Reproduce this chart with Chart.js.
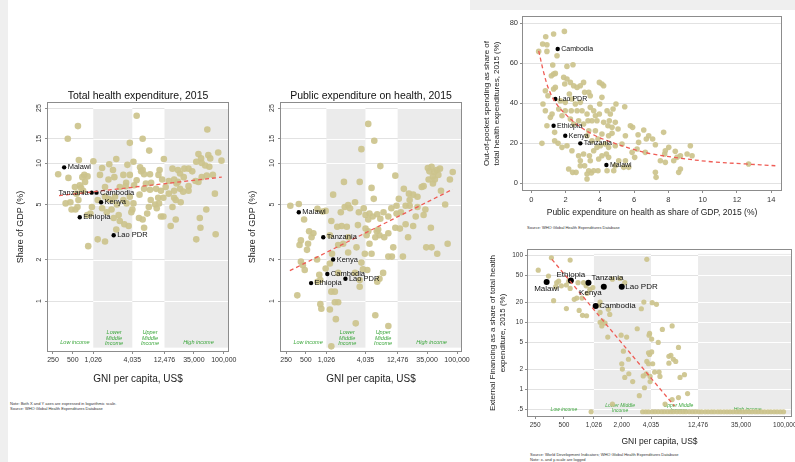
<!DOCTYPE html>
<html>
<head>
<meta charset="utf-8">
<title>Health expenditure and GNI per capita, 2015</title>
<script src="https://cdn.jsdelivr.net/npm/chart.js@4.4.1/dist/chart.umd.min.js"></script>
<style>
  html, body { margin: 0; padding: 0; }
  body { width: 795px; height: 462px; position: relative; overflow: hidden; background: #fff;
         font-family: "Liberation Sans", Arial, sans-serif; }
  .strip { position: absolute; background: #efefef; }
  canvas { position: absolute; }
  .note { position: absolute; font-size: 4px; line-height: 4.5px; color: #333; white-space: nowrap; }
</style>
</head>
<body>
<div class="strip" style="left:0;top:0;width:8px;height:462px"></div>
<div class="strip" style="left:470px;top:0;width:325px;height:10px"></div>

<canvas id="total" width="233" height="310" style="left:8px;top:86px"></canvas>
<canvas id="public" width="235" height="310" style="left:241px;top:86px"></canvas>
<canvas id="oop" width="319" height="210" style="left:476px;top:10px"></canvas>
<canvas id="external" width="311" height="204" style="left:484px;top:246px"></canvas>

<div class="note" style="left:10px;top:402px">Note: Both X and Y axes are expressed in logarithmic scale.<br>Source: WHO Global Health Expenditures Database</div>
<div class="note" style="left:527px;top:226px">Source: WHO Global Health Expenditures Database</div>
<div class="note" style="left:530px;top:453px">Source: World Development Indicators; WHO Global Health Expenditures Database<br>Note: x- and y-scale are logged</div>

<script>
const FONT = '"Liberation Sans", Arial, sans-serif';

// ---- tick values ----
const gniTicks = [250, 500, 1026, 4035, 12476, 35000, 100000];
const gniTicksExt = [250, 500, 1026, 2000, 4035, 12476, 35000, 100000];
const shareTicks = [1, 2, 5, 10, 15, 25];
const oopTicks = [0, 20, 40, 60, 80];
const pubShareTicks = [0, 2, 4, 6, 8, 10, 12, 14];
const extTicks = [0.5, 1, 2, 5, 10, 20, 50, 100];
const extTickLabels = ['.5', '1', '2', '5', '10', '20', '50', '100'];

// income thresholds (GNI per capita, US$)
const incomeBands = [[1026, 4035], [12476, Infinity]];
const incomeGroups = [['Low income'], ['Lower', 'Middle', 'Income'], ['Upper', 'Middle', 'Income'], ['High income']];
const incomeGroupsExt = [['Low income'], ['Lower Middle', 'Income'], ['Upper Middle', 'Income'], ['High income']];

// highlighted countries, same order in every panel
const countries = ['Malawi', 'Tanzania', 'Cambodia', 'Kenya', 'Ethiopia', 'Lao PDR'];

// ---- panel 1: total health expenditure, [GNI, % of GDP] ----
const totalCountries = [[370, 9.3], [970, 6.1], [1150, 6.1], [1350, 5.2], [640, 4.05], [2100, 3.0]];
const totalFit = [[309, 5.8], [93000, 7.9]];
const totalPts = [
  [4700,22],[600,18.5],[56000,17.5],[420,15],[5800,15],[3700,14],[7300,12.3],[620,10.5],[1030,10.3],[12200,10.7],
  [41000,11.6],[58000,11.4],[82000,11.9],[92000,10.4],[45000,10.8],[46000,10],[62000,10.8],[60000,9.4],[4200,10.2],[2300,10.7],
  [1800,9.8],[3400,9.7],[5300,9.3],[5800,8.9],[5500,8.7],[6100,8.3],[1400,9.2],[2050,8.9],[2150,7.9],[1300,8.2],
  [1750,7.6],[3250,7.2],[3200,6.8],[4300,6.9],[4700,7.5],[7500,8.3],[7800,7.2],[10500,8.9],[10100,8.2],[11500,7.6],
  [16500,9.1],[17500,7.6],[20000,8.9],[21500,8.4],[25000,9.1],[29000,9.1],[33000,8.7],[24500,7.9],[20000,7.3],[14500,7.4],
  [13000,6.7],[19000,7.1],[21500,6.5],[17500,6.3],[29000,6.8],[37000,7.4],[46000,7.9],[55000,8.1],[68000,8.2],[73000,6],
  [14500,6],[17500,5.6],[12000,5.6],[10000,5.6],[10300,5.1],[9000,5],[9500,4.7],[11000,4.1],[12000,4.1],[22000,5.2],
  [18500,5.4],[16500,4.8],[15500,3.5],[18500,3.9],[43000,4],[54000,4.6],[44000,3.4],[38000,2.8],[75000,3.05],
  [300,8.3],[430,7.8],[700,7.9],[750,8.2],[840,8],[640,6.9],[540,6.7],[770,7.3],[670,6.6],[720,6.3],
  [570,6],[610,5.4],[390,5.1],[480,4.6],[550,4.6],[460,5.2],[590,4.8],[980,4.8],[830,4.2],[930,4.3],
  [860,2.5],[1200,2.8],[1550,2.7],[1200,5.4],[1400,4.7],[1650,4.4],[1950,4.6],[2500,4.2],[2100,4],[2300,3.3],
  [3050,3.6],[3550,3.5],[3900,4.4],[2600,3.8],[1550,5.7],[1750,5.5],[1950,5.4],[2200,5.7],[2350,5],[2950,5.4],
  [3300,5.1],[3700,5.7],[4050,4.6],[4200,5.1],[5100,4],[5800,3.9],[6100,3.4],[6800,4.3],[7200,4.8],[5200,5.9],
  [6100,6.5],[6500,7.1],[7500,6.4],[7700,5.4],[9300,6.5],[11000,6.3],[29000,6.3],[24000,6.2],[41000,7.3],[52000,9.6],
  [38000,10.2],[2950,8.2],[2600,6.7],[1550,6.7],[3700,8.2]
];

// ---- panel 2: public expenditure on health, [GNI, % of GDP] ----
const publicCountries = [[390, 4.4], [920, 2.9], [1060, 1.57], [1300, 2.0], [600, 1.35], [2000, 1.45]];
const publicFit = [[285, 1.66], [86000, 6.45]];
const publicPts = [
  [4450,19.2],[5500,14.5],[3500,12.6],[6800,9.5],[1900,7.3],[3300,7.3],[11500,8.1],[5000,6.6],[1300,5.9],[2800,5.2],
  [5400,5.5],[1950,4.8],[2200,4.95],[2350,4.7],[1700,4.4],[3200,4.4],[3800,4.7],[4050,4.2],[4450,3.9],[4650,4.3],
  [5200,4.1],[6100,4.25],[6800,3.95],[7600,4.4],[9000,4.1],[10000,4.7],[12000,4.9],[13000,5.5],[15500,6.5],[18500,6],
  [21500,5.9],[19000,5.4],[25000,5.7],[29000,6.7],[31000,6.8],[36000,9.2],[38000,8.7],[41000,9.4],[43000,8],[46000,7.6],
  [49000,8.9],[55000,9.1],[57000,6.3],[52000,8.2],[43000,7.1],[78000,7.6],[86000,8.6],[37000,7.6],[45000,8.6],
  [12000,4.3],[14000,4.4],[16500,4.9],[19000,4.9],[23500,4.1],[25000,4.8],[31000,4.2],[11500,3.4],[13500,3.35],[16500,3.6],
  [21500,3.5],[18000,2.9],[40000,3.4],[66000,5],[33000,4.6],[10700,2.45],[9000,2.1],[10200,2.1],[15000,2.1],[34000,2.45],
  [41000,2.45],[50000,2.2],[72000,2.6],[9000,3.1],[7800,2.9],[6600,3],[5700,2.9],[6000,3.2],[6300,3.3],[4200,3],
  [4650,2.6],[3950,2.2],[3500,1.9],[3700,1.7],[4300,1.68],[5000,2.2],[2950,2.45],[2200,2.25],[1850,2.6],[1550,2.55],
  [2100,3.45],[2200,2.9],[3100,3.55],[4050,3.35],[4450,3.2],[7500,1.6],[6600,1.45],[6100,1.38],[3300,1.27],[3300,1.42],
  [1160,1.87],[1250,2.2],[1000,1.72],[800,1.55],[750,1.38],[830,1.42],[480,1.68],[450,1.82],[420,1.93],[740,2],
  [520,2.35],[420,2.75],[400,2.55],[540,2.6],[610,2.9],[650,3.1],[560,3.2],[290,4.9],[390,5.05],[470,3.9],
  [750,4.65],[1000,4.5],[900,4.45],[1220,3.8],[1500,3.45],[1750,3.5],[1160,3],[1220,1.17],[1380,1.17],[1550,0.98],
  [1380,0.98],[830,0.95],[860,0.88],[1160,0.87],[370,1.1],[1430,0.74],[2870,0.69],[5700,0.79],[9000,0.66],[1220,0.47],
  [2800,1.6],[1550,1.6]
];

// ---- panel 3: out-of-pocket share vs public expenditure share ----
const oopCountries = [[4.38, 9.2], [2.86, 20], [1.54, 67.2], [1.98, 23.8], [1.30, 28.8], [1.40, 42.2]];
const oopFit = [[0.43,66.3],[0.72,55.5],[1.01,47.2],[1.4,40.5],[1.98,34.7],[2.76,28.8],[3.74,23.8],[4.71,20.5],
  [5.88,17.2],[7.04,14.7],[8.6,12.7],[10.5,10.8],[12.5,9.7],[14.24,8.8]];
const oopPts = [
  [0.43,66],[0.66,69.7],[0.84,73.3],[0.91,69.3],[0.91,66],[1.3,74.7],[1.93,76],[1.5,63.8],[1.25,59.2],[1.3,54.7],
  [1.17,53.8],[1.4,55],[2.08,58.5],[2.43,59.3],[1.89,53],[2.08,52.2],[1.4,48],[1.3,47.2],[1.95,49.7],[2.28,50.5],
  [2.47,48.8],[2.67,48],[2.86,48.8],[3.05,50.5],[3.11,45.5],[3.35,45.5],[3.44,43.8],[3.97,50.5],[4.12,49.7],[4.22,48.8],
  [4.12,43],[0.82,46.3],[0.97,43.8],[0.68,39.7],[0.82,36.3],[1.69,41.3],[1.98,40.5],[2.22,44.7],[2.37,42.2],[2.57,39.7],
  [2.86,40.5],[2.67,36.3],[2.33,36.3],[1.98,36.3],[1.6,37.2],[1.79,33.8],[2.96,36.3],[3.25,34.7],[3.44,38],[3.64,36.3],
  [3.74,33.8],[3.83,31.3],[3.99,39.7],[3.97,34.7],[3.54,31.3],[3.31,31.3],[3.05,29.7],[2.76,31.3],[2.47,29.7],[2.28,32.2],
  [4.22,30.5],[4.42,36.3],[4.61,34.7],[4.77,37.2],[4.94,39.7],[5.45,38.3],[4.55,31.3],[4.47,28.8],[4.71,28],[4.9,30.5],
  [5.06,27.2],[4.71,25],[4.51,23.8],[4.12,24.7],[3.89,22.2],[3.74,26.3],[3.35,26.3],[3.25,23.8],[3.54,21.3],[3.83,18],
  [3.64,16.3],[4.03,18.8],[4.32,19.7],[4.51,18],[4.9,18.8],[5.29,19.7],[5.49,23.8],[5.78,28.8],[5.91,28],[6.23,24.3],
  [6.56,26.7],[6.26,20.5],[6.85,23.8],[7.08,22.2],[7.24,19.3],[6.71,22.2],[6.17,17.2],[5.88,15.5],[6.03,13],[6.65,15.5],
  [7.72,25.5],[7.82,16.3],[8.02,18],[8.4,16],[7.78,14.7],[7.53,11.3],[7.82,10.5],[8.31,11.3],[8.5,13],[8.7,13.8],
  [9.09,14.7],[9.28,18.8],[9.38,13.8],[8.7,7.2],[8.6,5.5],[7.24,5.5],[7.28,3],[5.49,11.3],[5.1,11.3],[5.68,8],
  [5.39,8],[4.81,6.3],[4.9,8.8],[4.42,6.3],[4.38,14.7],[4.51,13],[4.12,13.8],[3.93,12.2],[3.44,11.3],[3.39,13.8],
  [3.05,14.7],[2.76,13.8],[2.86,11.3],[2.86,8.8],[3.11,8.8],[3.35,6.3],[3.5,5.2],[3.25,2.2],[3.25,4.7],[3.64,6.3],
  [3.89,6.3],[2.18,7.2],[2.41,5.5],[2.61,5.5],[2.37,16.3],[2.08,18.8],[1.79,18],[1.56,20],[1.36,21.3],[1.36,25.5],
  [0.62,20],[0.91,28.8],[1.11,33],[1.21,34.7],[12.68,9.7]
];

// ---- panel 4: external financing share, [GNI, %] ----
const extCountries = [[330, 40], [900, 39], [1070, 17.5], [1300, 34], [590, 42], [2000, 34]];
const extFit = [[374, 87], [7080, 0.56]];
const extPts = [
  [270,60],[370,92],[580,85],[345,49],[420,39],[440,41],[410,34],[390,21],[470,35],[530,36],
  [560,41],[580,32],[640,22],[680,23],[530,16],[720,15],[780,12.7],[860,12.5],[800,39],[850,35],
  [930,31],[1000,33],[770,23],[870,27],[700,39],[1190,20],[1160,18],[1190,14],[1190,10],[1240,8.8],
  [1260,10.4],[1340,9.7],[1450,15.6],[1500,13.1],[1600,44],[1920,45],[2150,39],[1430,6],[1970,6.4],[2250,6],
  [2080,3.7],[2000,2.4],[2030,2],[2350,2.8],[2150,1.5],[2370,1.7],[2600,1.3],[2900,8],[3200,15.9],[3650,87],
  [3400,20],[4150,19.6],[4600,18.5],[3900,6.8],[3850,6.4],[4100,5.6],[3800,3.5],[3900,3.3],[4100,3.6],[3800,2.4],
  [3650,2.6],[4200,2.4],[3600,1.7],[3950,1.55],[3950,1.3],[4400,1.8],[4900,1.8],[5000,1.55],[3450,1.05],[3050,0.8],
  [4800,5],[5300,7.8],[6700,8.8],[6200,3.1],[6500,3.2],[6900,2.8],[7300,2.6],[6200,2.45],[7800,4.2],[8100,1.5],
  [9000,1.65],[9700,0.86],[7800,0.75],[6700,0.7],[5650,0.6],[3350,1.58],[1600,0.6]
];
// countries with no external financing, drawn on the floor of the axis
const extNoneGni = [960, 3300, 3550, 3800, 4150, 4450, 4800, 5200, 5550, 6000, 6450, 6900, 7500, 8100, 8700, 9300,
  10100, 10900, 11700, 12700, 13600, 14800, 15900, 17200, 18400, 20000, 21400, 23200, 25000, 26900, 29000, 31400,
  33700, 36500, 39100, 42400, 45500, 49300, 52800, 57200, 61500, 66600, 71500, 77400, 83200, 90000, 97000];
const extFloor = 0.46;

// ---------------------------------------------------------------
const xy = arr => arr.map(([x, y]) => ({ x, y }));

// income bands, band labels, white grid across bands, plot frame
const bandsPlugin = {
  id: 'bands',
  beforeDatasetsDraw(chart, args, o) {
    if (!o.ranges) return;
    const { ctx, chartArea: a, scales: { x, y } } = chart;
    const top = Math.max(a.top, y.getPixelForValue(o.yRange[1]));
    const bot = Math.min(a.bottom, y.getPixelForValue(o.yRange[0]));
    ctx.save();
    o.ranges.forEach(([b0, b1]) => {
      const l = Math.max(a.left, x.getPixelForValue(b0));
      const r = Math.min(a.right, x.getPixelForValue(b1));
      ctx.fillStyle = '#ebebeb';
      ctx.fillRect(l, top, r - l, bot - top);
      ctx.strokeStyle = '#ffffff';
      ctx.lineWidth = 1;
      y.ticks.forEach(t => {
        const py = Math.round(y.getPixelForValue(t.value)) + 0.5;
        if (py < top || py > bot) return;
        ctx.beginPath(); ctx.moveTo(l, py); ctx.lineTo(r, py); ctx.stroke();
      });
    });
    ctx.fillStyle = '#3aa63a';
    ctx.font = `italic ${o.size}px ${FONT}`;
    ctx.textAlign = 'center';
    ctx.textBaseline = 'middle';
    o.labels.forEach((lines, i) => {
      const [lx, ly] = o.anchors[i];
      const px = x.getPixelForValue(lx), py = y.getPixelForValue(ly);
      const lh = o.size * 1.05;
      lines.forEach((t, j) => ctx.fillText(t, px, py + (j - (lines.length - 1) / 2) * lh));
    });
    ctx.restore();
  },
  afterDraw(chart) {
    const { ctx, chartArea: a } = chart;
    ctx.save();
    ctx.strokeStyle = '#8c8c8c';
    ctx.lineWidth = 1;
    ctx.strokeRect(Math.round(a.left) - 0.5, Math.round(a.top) - 0.5,
      Math.round(a.right - a.left) + 1, Math.round(a.bottom - a.top) + 1);
    ctx.restore();
  }
};

// names next to the highlighted countries
const namesPlugin = {
  id: 'names',
  afterDatasetsDraw(chart, args, o) {
    if (!o.names) return;
    const meta = chart.getDatasetMeta(o.dataset);
    const ctx = chart.ctx;
    ctx.save();
    ctx.font = `${o.size}px ${FONT}`;
    ctx.fillStyle = '#111';
    ctx.textBaseline = 'middle';
    meta.data.forEach((pt, i) => {
      const name = o.names[i];
      const [dx, dy, align] = (o.place && o.place[name]) || [o.gap, 0, 'left'];
      ctx.textAlign = align;
      ctx.fillText(name, pt.x + dx, pt.y + dy);
    });
    ctx.restore();
  }
};

function panel(id, c) {
  const tickFont = { family: FONT, size: c.tickSize };
  const options = {
    responsive: false,
    animation: false,
    devicePixelRatio: 1,
    layout: { padding: c.pad },
    scales: {
      x: {
        type: c.xType, min: c.xMin, max: c.xMax, bounds: 'data',
        afterBuildTicks: s => { s.ticks = c.xTicks.map(v => ({ value: v })); },
        afterFit: s => { s.height = c.xH; s.paddingLeft = 0; s.paddingRight = 0; },
        ticks: { autoSkip: false, maxRotation: 0, minRotation: 0, padding: 2, color: '#333',
                 font: tickFont, callback: c.xFmt },
        grid: { drawOnChartArea: false, tickLength: 3, tickColor: '#8c8c8c' },
        border: { display: false },
        title: { display: true, text: c.xTitle, color: '#222',
                 font: { family: FONT, size: c.xTitleSize, lineHeight: 1.2 },
                 padding: { top: 0, bottom: c.xTitlePad } }
      },
      y: {
        type: c.yType, min: c.yMin, max: c.yMax, bounds: 'data',
        afterBuildTicks: s => { s.ticks = c.yTicks.map(v => ({ value: v })); },
        afterFit: s => { s.width = c.yW; s.paddingTop = 0; s.paddingBottom = 0; },
        ticks: Object.assign({ autoSkip: false, padding: 2, color: '#333', font: tickFont,
                 callback: c.yFmt }, c.yTickExtra || {}),
        grid: { color: '#e2e2e2', tickLength: 3, tickColor: '#8c8c8c' },
        border: { display: false },
        title: { display: true, text: c.yTitle, color: '#222',
                 font: { family: FONT, size: c.yTitleSize, lineHeight: c.yTitleLH },
                 padding: { top: c.yTitlePad, bottom: 0 } }
      }
    },
    plugins: {
      legend: { display: false },
      tooltip: { enabled: false },
      title: c.title ? { display: true, text: c.title, fullSize: false, color: '#111',
               font: { family: FONT, size: 10.5, weight: 'normal', lineHeight: '13px' },
               padding: { top: 4, bottom: 0 } } : { display: false },
      bands: c.bands || {},
      names: { names: countries, dataset: 1, size: c.nameSize, gap: c.nameGap, place: c.place }
    }
  };
  const datasets = [
    { type: 'line', data: xy(c.fit), borderColor: '#ef5c55', borderWidth: 1.3, borderDash: [4, 3],
      pointRadius: 0, fill: false, tension: c.curve ? 0.35 : 0, order: 0 },
    { type: 'scatter', data: xy(c.countries), backgroundColor: '#000', borderWidth: 0,
      pointRadius: c.blackR, order: 1 },
    { type: 'scatter', data: xy(c.points), backgroundColor: 'rgba(204,195,140,0.92)', borderWidth: 0,
      pointRadius: c.dotR, order: 2 }
  ];
  if (c.extra) datasets.push({ type: 'scatter', data: c.extra, backgroundColor: 'rgba(204,195,140,0.92)',
    borderWidth: 0, pointRadius: c.dotR, order: 3 });
  return new Chart(document.getElementById(id), {
    type: 'scatter', data: { datasets }, options, plugins: [bandsPlugin, namesPlugin]
  });
}

const gniFmt = v => Number(v).toLocaleString('en-US');
const plainFmt = v => String(v);
const leftBandLabels = { ranges: incomeBands, yRange: [0.46, 25], labels: incomeGroups,
  anchors: [[540, 0.5], [2130, 0.54], [7500, 0.54], [41000, 0.5]], size: 5.5 };
const rotatedTicks = { minRotation: 90, maxRotation: 90, crossAlign: 'center' };

panel('total', {
  pad: { left: 0, top: 0, right: 13, bottom: 0 },
  title: 'Total health expenditure, 2015',
  xType: 'logarithmic', xMin: 210, xMax: 115600, xTicks: gniTicks, xFmt: gniFmt, xH: 45,
  xTitle: 'GNI per capita, US$', xTitleSize: 10, xTitlePad: 11,
  yType: 'logarithmic', yMin: 0.435, yMax: 27.2, yTicks: shareTicks, yFmt: plainFmt, yW: 40,
  yTickExtra: rotatedTicks, yTitle: 'Share of GDP (%)', yTitleSize: 9, yTitleLH: '11px', yTitlePad: 7.5,
  tickSize: 7, bands: leftBandLabels,
  points: totalPts, countries: totalCountries, fit: totalFit, dotR: 3.3, blackR: 2.2,
  nameSize: 7.5, nameGap: 3.5, place: { Tanzania: [-3, 0, 'right'] }
});

panel('public', {
  pad: { left: 0, top: 0, right: 15, bottom: 0 },
  title: 'Public expenditure on health, 2015',
  xType: 'logarithmic', xMin: 209, xMax: 115000, xTicks: gniTicks, xFmt: gniFmt, xH: 45,
  xTitle: 'GNI per capita, US$', xTitleSize: 10, xTitlePad: 11,
  yType: 'logarithmic', yMin: 0.435, yMax: 27.2, yTicks: shareTicks, yFmt: plainFmt, yW: 40,
  yTickExtra: rotatedTicks, yTitle: 'Share of GDP (%)', yTitleSize: 9, yTitleLH: '11px', yTitlePad: 6.5,
  tickSize: 7, bands: leftBandLabels,
  points: publicPts, countries: publicCountries, fit: publicFit, dotR: 3.3, blackR: 2.2,
  nameSize: 7.5, nameGap: 3.5
});

panel('oop', {
  pad: { left: 0, top: 7, right: 14, bottom: 0 },
  xType: 'linear', xMin: -0.486, xMax: 14.57, xTicks: pubShareTicks, xFmt: plainFmt, xH: 30,
  xTitle: 'Public expenditure on health as share of GDP, 2015 (%)', xTitleSize: 8.5, xTitlePad: 2,
  yType: 'linear', yMin: -3.33, yMax: 83.2, yTicks: oopTicks, yFmt: plainFmt, yW: 47,
  yTitle: ['Out-of-pocket spending as share of', 'total health expenditures, 2015 (%)'],
  yTitleSize: 8, yTitleLH: '10px', yTitlePad: 6,
  tickSize: 7.5,
  points: oopPts, countries: oopCountries, fit: oopFit, curve: true, dotR: 2.8, blackR: 2.2,
  nameSize: 7, nameGap: 3.5
});

panel('external', {
  pad: { left: 0, top: 4, right: 4, bottom: 0 },
  xType: 'logarithmic', xMin: 211, xMax: 116000, xTicks: gniTicksExt, xFmt: gniFmt, xH: 34,
  xTitle: 'GNI per capita, US$', xTitleSize: 8.5, xTitlePad: 3,
  yType: 'logarithmic', yMin: 0.3977, yMax: 120, yTicks: extTicks, yFmt: (v, i) => extTickLabels[i], yW: 44,
  yTitle: ['External Financing as a share of total health', 'expenditure, 2015 (%)'],
  yTitleSize: 8, yTitleLH: '10px', yTitlePad: 4,
  tickSize: 6.5,
  bands: { ranges: incomeBands, yRange: [0.42, 105], labels: incomeGroupsExt,
           anchors: [[500, 0.5], [1920, 0.52], [7800, 0.52], [41000, 0.5]], size: 5 },
  points: extPts, extra: extNoneGni.map(g => ({ x: g, y: extFloor })),
  countries: extCountries, fit: extFit, dotR: 2.6, blackR: 3,
  nameSize: 8, nameGap: 3.5,
  place: { Malawi: [0, 7, 'center'], Ethiopia: [0, -6, 'center'], Tanzania: [3, -5, 'left'],
           Kenya: [-2, 6, 'right'] }
});
</script>
</body>
</html>
